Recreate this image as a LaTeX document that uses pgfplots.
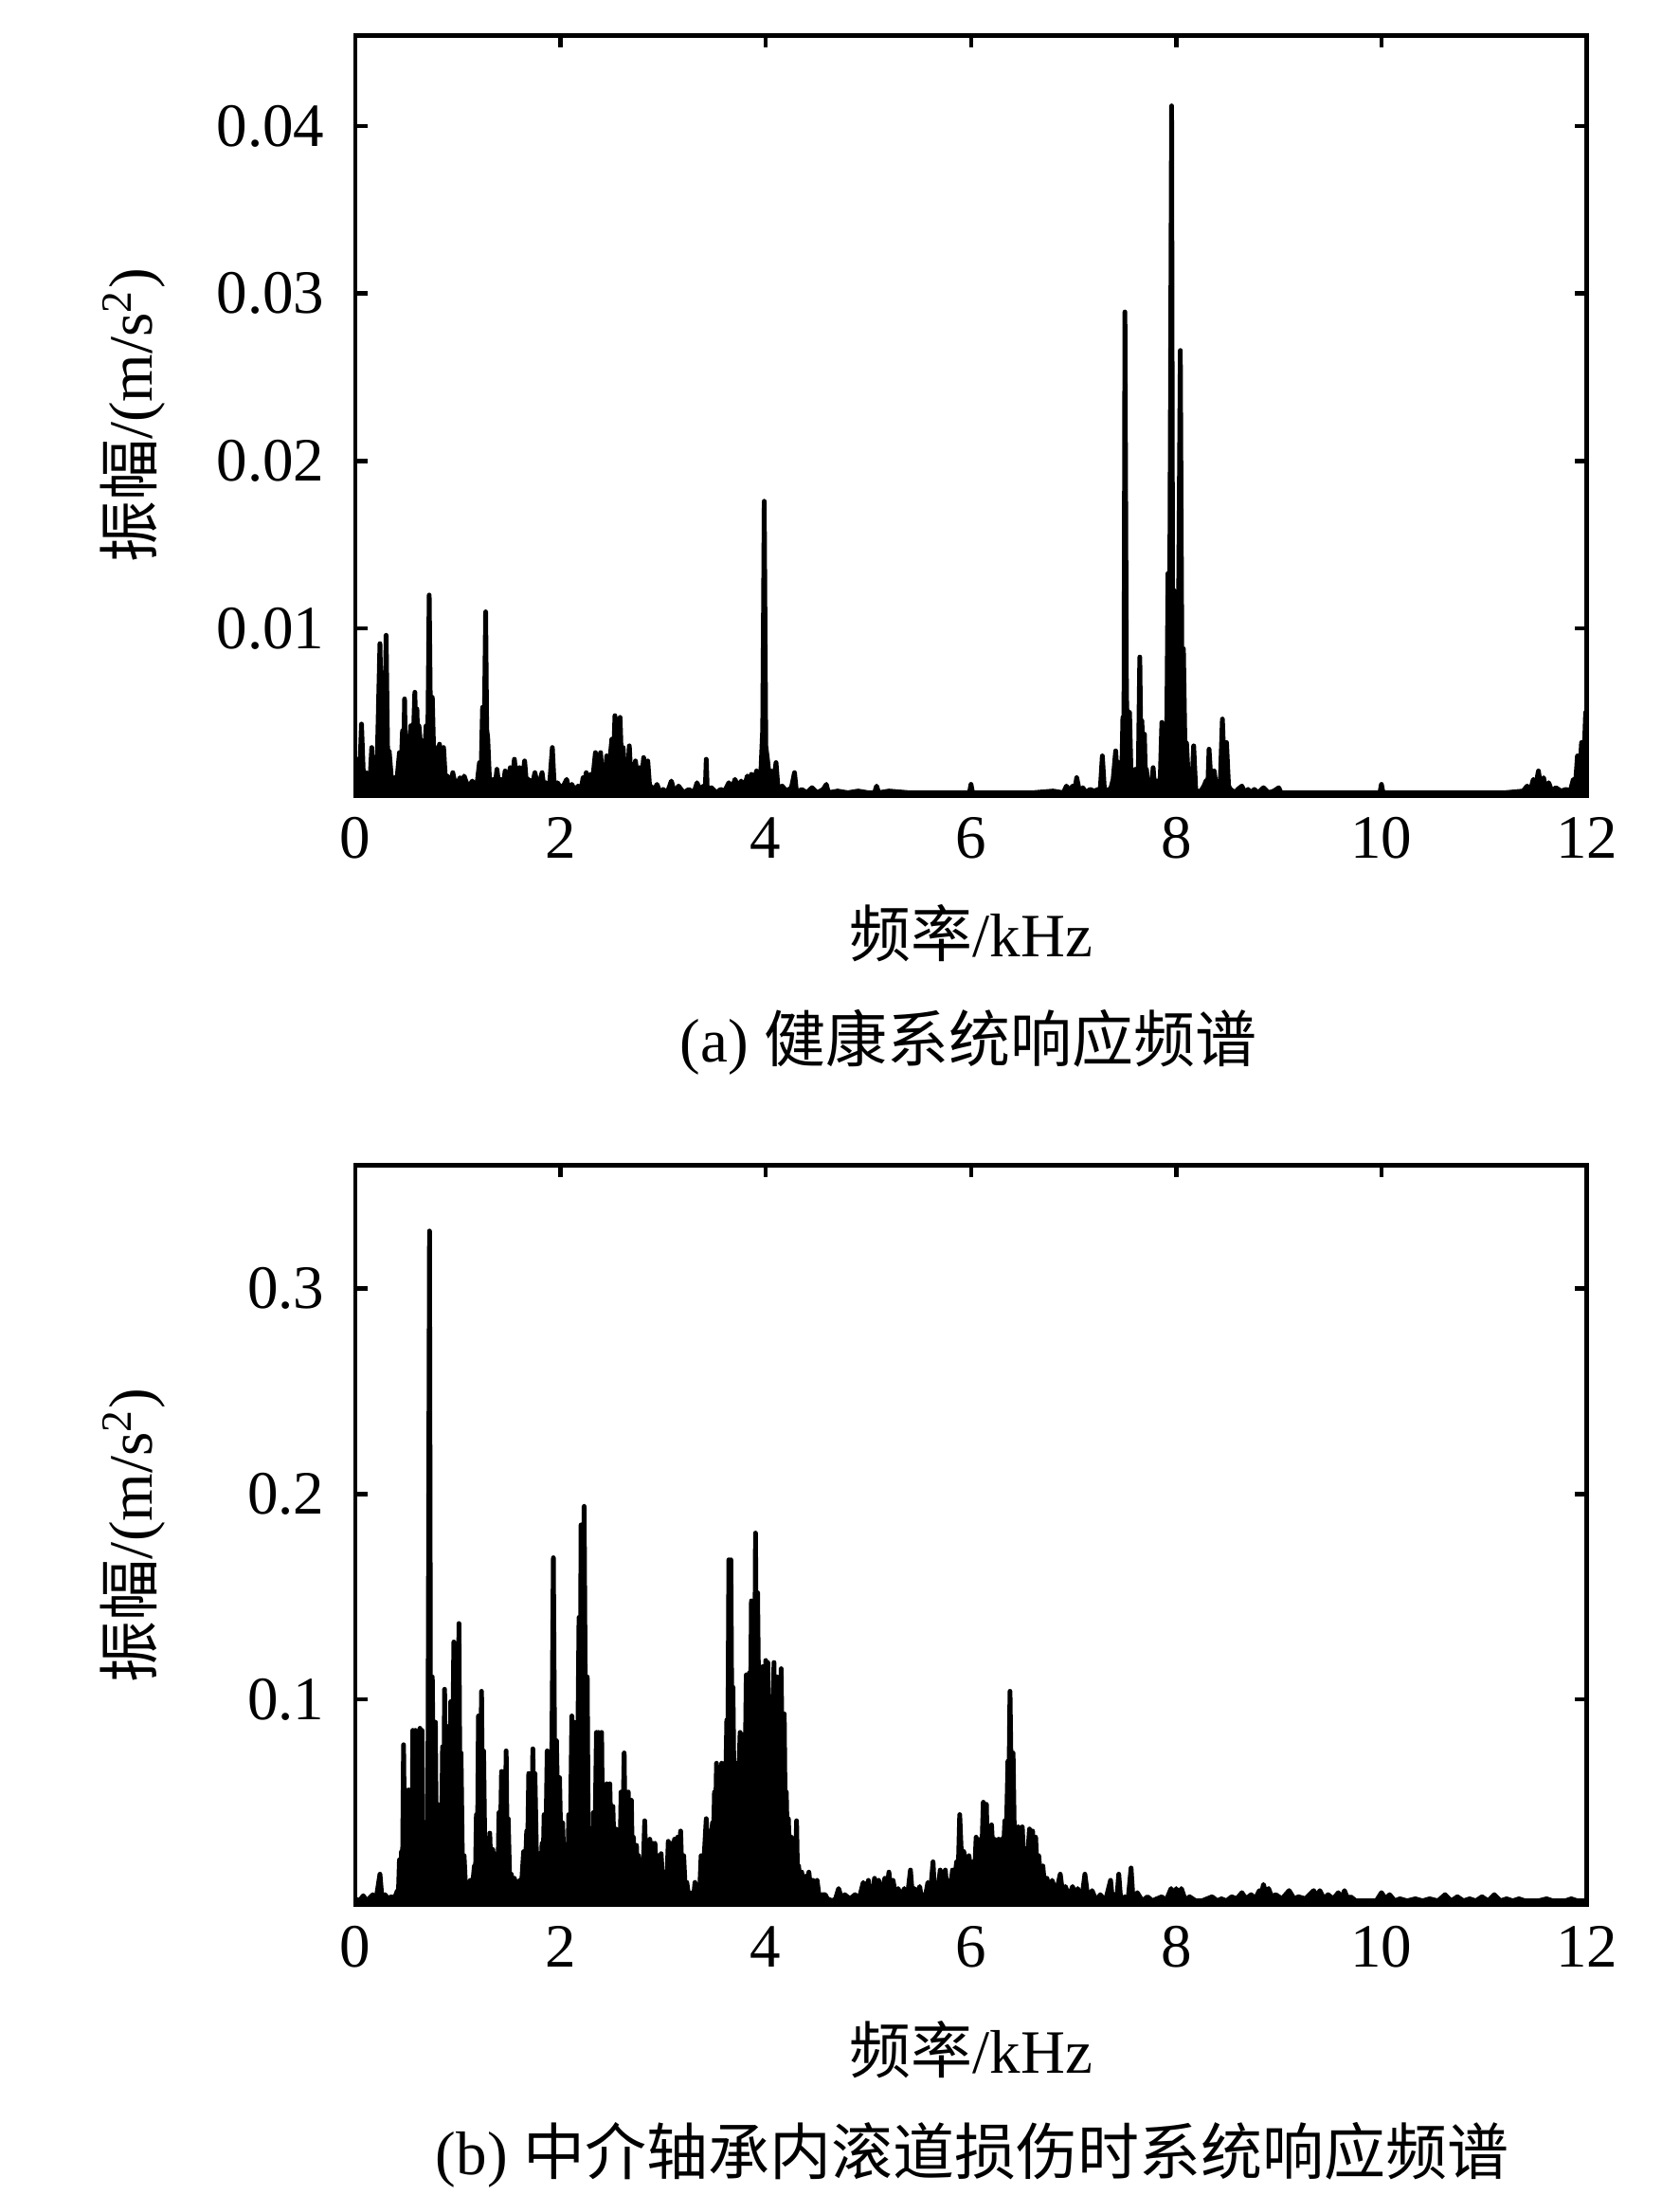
\documentclass[border=0pt]{standalone}
\usepackage{pgfplots}
\pgfplotsset{compat=1.18}
\usepackage{pgfplotstable}
\usepackage{fontspec}
\setmainfont{Liberation Serif}
\newfontfamily\cjk{Noto Sans CJK SC}

\pgfplotstableread[row sep=\\]{
x y\\
0.00 0.0004\\ 0.02 0.0022\\ 0.04 0.0008\\ 0.06 0.0043\\ 0.08 0.0010\\ 0.11 0.0014\\ 0.14 0.0006\\ 0.16 0.0029\\ 0.18 0.0008\\ 0.21 0.0012\\
0.24 0.0091\\ 0.255 0.0040\\ 0.27 0.0065\\ 0.285 0.0035\\ 0.30 0.0096\\ 0.315 0.0025\\ 0.33 0.0027\\ 0.355 0.0008\\ 0.38 0.0011\\ 0.40 0.0006\\
0.43 0.0026\\ 0.445 0.0015\\ 0.46 0.0039\\ 0.47 0.0020\\ 0.48 0.0058\\ 0.49 0.0018\\ 0.50 0.0024\\ 0.52 0.0020\\ 0.54 0.0042\\ 0.56 0.0025\\
0.58 0.0062\\ 0.59 0.0035\\ 0.60 0.0052\\ 0.61 0.0030\\ 0.62 0.0042\\ 0.64 0.0028\\ 0.66 0.0033\\ 0.675 0.0025\\ 0.69 0.0042\\ 0.705 0.0025\\
0.72 0.0120\\ 0.735 0.0030\\ 0.75 0.0059\\ 0.765 0.0022\\ 0.78 0.0029\\ 0.80 0.0020\\ 0.82 0.0031\\ 0.84 0.0018\\ 0.86 0.0029\\ 0.88 0.0008\\
0.90 0.0012\\ 0.93 0.0006\\ 0.95 0.0014\\ 0.98 0.0005\\ 1.02 0.0011\\ 1.04 0.0005\\ 1.06 0.0012\\ 1.10 0.0005\\ 1.14 0.0009\\ 1.18 0.0004\\
1.21 0.0020\\ 1.225 0.0012\\ 1.24 0.0053\\ 1.255 0.0030\\ 1.27 0.0110\\ 1.28 0.0040\\ 1.29 0.0035\\ 1.31 0.0006\\ 1.34 0.0010\\ 1.36 0.0005\\
1.38 0.0016\\ 1.40 0.0006\\ 1.42 0.0010\\ 1.44 0.0005\\ 1.46 0.0015\\ 1.48 0.0006\\ 1.51 0.0017\\ 1.53 0.0007\\ 1.55 0.0022\\ 1.575 0.0007\\
1.60 0.0017\\ 1.62 0.0006\\ 1.65 0.0021\\ 1.67 0.0006\\ 1.69 0.0010\\ 1.72 0.0005\\ 1.75 0.0014\\ 1.78 0.0005\\ 1.82 0.0014\\ 1.84 0.0004\\
1.86 0.0008\\ 1.89 0.0004\\ 1.92 0.0029\\ 1.94 0.0004\\ 1.97 0.0008\\ 2.01 0.0004\\ 2.06 0.0010\\ 2.08 0.0004\\ 2.11 0.0007\\ 2.14 0.0003\\
2.17 0.0006\\ 2.20 0.0004\\ 2.22 0.0011\\ 2.235 0.0006\\ 2.25 0.0014\\ 2.27 0.0008\\ 2.29 0.0013\\ 2.31 0.0008\\ 2.34 0.0026\\ 2.36 0.0012\\
2.39 0.0026\\ 2.405 0.0012\\ 2.42 0.0018\\ 2.435 0.0012\\ 2.45 0.0024\\ 2.47 0.0014\\ 2.50 0.0034\\ 2.515 0.0018\\ 2.53 0.0048\\ 2.54 0.0020\\
2.55 0.0029\\ 2.565 0.0020\\ 2.58 0.0047\\ 2.595 0.0018\\ 2.61 0.0029\\ 2.625 0.0014\\ 2.64 0.0014\\ 2.655 0.0012\\ 2.67 0.0030\\ 2.685 0.0012\\
2.70 0.0019\\ 2.715 0.0010\\ 2.73 0.0021\\ 2.75 0.0010\\ 2.77 0.0017\\ 2.79 0.0010\\ 2.81 0.0023\\ 2.83 0.0010\\ 2.85 0.0021\\ 2.87 0.0004\\
2.88 0.0006\\ 2.91 0.0003\\ 2.94 0.0007\\ 2.97 0.0002\\ 3.00 0.0004\\ 3.04 0.0002\\ 3.08 0.0009\\ 3.11 0.0002\\ 3.15 0.0006\\ 3.20 0.0002\\
3.25 0.0004\\ 3.30 0.0002\\ 3.33 0.0008\\ 3.36 0.0003\\ 3.39 0.0006\\ 3.41 0.0003\\ 3.42 0.0022\\ 3.43 0.0003\\ 3.47 0.0005\\ 3.52 0.0002\\
3.56 0.0004\\ 3.60 0.0003\\ 3.64 0.0008\\ 3.67 0.0004\\ 3.70 0.0010\\ 3.73 0.0005\\ 3.76 0.0009\\ 3.79 0.0005\\ 3.82 0.0012\\ 3.84 0.0006\\
3.86 0.0013\\ 3.88 0.0007\\ 3.91 0.0015\\ 3.93 0.0008\\ 3.95 0.0011\\ 3.97 0.0040\\ 3.985 0.0176\\ 4.00 0.0030\\ 4.02 0.0020\\ 4.04 0.0008\\
4.05 0.0015\\ 4.07 0.0006\\ 4.10 0.0020\\ 4.12 0.0004\\ 4.16 0.0006\\ 4.20 0.0003\\ 4.25 0.0005\\ 4.28 0.0014\\ 4.30 0.0002\\ 4.35 0.0004\\
4.40 0.0002\\ 4.45 0.0005\\ 4.50 0.0002\\ 4.56 0.0004\\ 4.59 0.0007\\ 4.61 0.0002\\ 4.70 0.0003\\ 4.80 0.0002\\ 4.90 0.0003\\ 5.00 0.0002\\
5.06 0.0002\\ 5.08 0.0006\\ 5.10 0.0002\\ 5.20 0.0003\\ 5.40 0.0002\\ 5.60 0.0002\\ 5.80 0.0002\\ 5.985 0.0002\\ 6.00 0.0007\\ 6.015 0.0002\\
6.20 0.0002\\ 6.40 0.0002\\
6.60 0.0002\\ 6.80 0.0003\\ 6.90 0.0002\\ 6.93 0.0006\\ 6.96 0.0003\\ 6.99 0.0006\\ 7.01 0.0003\\ 7.03 0.0011\\ 7.06 0.0002\\ 7.09 0.0005\\
7.12 0.0002\\ 7.16 0.0004\\ 7.20 0.0003\\ 7.24 0.0004\\ 7.26 0.0004\\ 7.28 0.0024\\ 7.30 0.0004\\ 7.32 0.0003\\ 7.34 0.0004\\ 7.36 0.0004\\
7.385 0.0010\\ 7.41 0.0027\\ 7.425 0.0012\\ 7.44 0.0020\\ 7.45 0.0012\\ 7.46 0.0020\\ 7.47 0.0015\\ 7.48 0.0047\\ 7.49 0.0030\\ 7.50 0.0289\\
7.515 0.0060\\ 7.53 0.0030\\ 7.545 0.0050\\ 7.56 0.0012\\ 7.575 0.0011\\ 7.59 0.0008\\ 7.60 0.0016\\ 7.61 0.0008\\ 7.62 0.0016\\ 7.63 0.0012\\
7.645 0.0083\\ 7.655 0.0030\\ 7.665 0.0045\\ 7.68 0.0020\\ 7.69 0.0037\\ 7.70 0.0010\\ 7.71 0.0016\\ 7.725 0.0006\\ 7.74 0.0009\\ 7.76 0.0006\\
7.775 0.0017\\ 7.79 0.0005\\ 7.81 0.0009\\ 7.83 0.0005\\ 7.845 0.0012\\ 7.86 0.0044\\ 7.875 0.0012\\ 7.89 0.0019\\ 7.905 0.0015\\ 7.92 0.0133\\
7.935 0.0090\\ 7.955 0.0412\\ 7.965 0.0100\\ 7.975 0.0123\\ 7.99 0.0090\\ 8.005 0.0120\\ 8.02 0.0090\\ 8.04 0.0266\\ 8.055 0.0080\\ 8.07 0.0088\\
8.085 0.0030\\ 8.10 0.0032\\ 8.12 0.0008\\ 8.14 0.0013\\ 8.155 0.0010\\ 8.17 0.0030\\ 8.19 0.0004\\ 8.22 0.0002\\ 8.25 0.0004\\ 8.27 0.0006\\
8.29 0.0009\\ 8.31 0.0010\\ 8.32 0.0028\\ 8.34 0.0008\\ 8.37 0.0015\\ 8.39 0.0005\\ 8.41 0.0007\\ 8.43 0.0010\\ 8.45 0.0046\\ 8.47 0.0012\\
8.49 0.0032\\ 8.51 0.0006\\ 8.53 0.0004\\ 8.575 0.0002\\ 8.60 0.0004\\ 8.64 0.0006\\ 8.67 0.0002\\ 8.70 0.0004\\ 8.73 0.0002\\ 8.76 0.0004\\
8.80 0.0002\\ 8.85 0.0005\\ 8.90 0.0002\\ 8.95 0.0003\\ 9.00 0.0005\\ 9.02 0.0002\\ 9.20 0.0002\\ 9.50 0.0002\\ 9.80 0.0002\\ 9.985 0.0002\\
10.00 0.0007\\ 10.015 0.0002\\ 10.40 0.0002\\ 10.80 0.0002\\ 11.20 0.0002\\ 11.38 0.0003\\ 11.42 0.0006\\ 11.45 0.0003\\ 11.48 0.0010\\ 11.50 0.0005\\
11.53 0.0015\\ 11.55 0.0006\\ 11.58 0.0011\\ 11.60 0.0004\\ 11.63 0.0008\\ 11.66 0.0003\\ 11.70 0.0005\\ 11.75 0.0003\\ 11.80 0.0004\\ 11.84 0.0003\\
11.87 0.0010\\ 11.89 0.0006\\ 11.91 0.0024\\ 11.93 0.0010\\ 11.95 0.0032\\ 11.97 0.0015\\ 11.99 0.0050\\ 12.00 0.0050\\
}\healthy

\pgfplotstableread[row sep=\\]{
x y\\
0.00 0.003\\ 0.04 0.002\\ 0.077 0.0045\\ 0.11 0.002\\ 0.17 0.005\\ 0.20 0.002\\ 0.24 0.015\\ 0.26 0.003\\ 0.29 0.005\\ 0.32 0.003\\
0.35 0.004\\ 0.38 0.003\\ 0.41 0.007\\ 0.42 0.006\\ 0.43 0.022\\ 0.44 0.012\\ 0.45 0.026\\ 0.46 0.018\\ 0.47 0.078\\ 0.48 0.030\\
0.49 0.056\\ 0.505 0.030\\ 0.52 0.056\\ 0.53 0.012\\ 0.545 0.017\\ 0.553 0.015\\ 0.56 0.085\\ 0.572 0.040\\ 0.585 0.085\\ 0.593 0.030\\
0.60 0.048\\ 0.615 0.020\\ 0.63 0.086\\ 0.64 0.050\\ 0.65 0.085\\ 0.66 0.030\\ 0.67 0.037\\ 0.68 0.010\\ 0.69 0.022\\ 0.705 0.015\\
0.723 0.328\\ 0.735 0.030\\ 0.75 0.111\\ 0.765 0.040\\ 0.78 0.089\\ 0.79 0.030\\ 0.80 0.049\\ 0.81 0.015\\ 0.82 0.022\\ 0.825 0.015\\
0.83 0.045\\ 0.84 0.030\\ 0.85 0.077\\ 0.86 0.040\\ 0.87 0.105\\ 0.88 0.035\\ 0.89 0.067\\ 0.90 0.040\\ 0.91 0.087\\ 0.92 0.050\\
0.93 0.099\\ 0.945 0.060\\ 0.96 0.128\\ 0.972 0.070\\ 0.985 0.122\\ 0.997 0.060\\ 1.01 0.137\\ 1.02 0.050\\ 1.03 0.074\\ 1.045 0.015\\
1.06 0.024\\ 1.075 0.008\\ 1.09 0.011\\ 1.105 0.007\\ 1.12 0.012\\ 1.14 0.008\\ 1.16 0.019\\ 1.17 0.012\\ 1.18 0.044\\ 1.19 0.025\\
1.20 0.092\\ 1.215 0.040\\ 1.23 0.104\\ 1.24 0.040\\ 1.25 0.075\\ 1.265 0.015\\ 1.28 0.030\\ 1.295 0.015\\ 1.31 0.035\\ 1.325 0.012\\
1.34 0.027\\ 1.36 0.012\\ 1.38 0.025\\ 1.39 0.015\\ 1.40 0.045\\ 1.412 0.025\\ 1.425 0.065\\ 1.437 0.035\\ 1.45 0.065\\ 1.46 0.035\\
1.47 0.075\\ 1.48 0.025\\ 1.49 0.042\\ 1.505 0.010\\ 1.52 0.015\\ 1.535 0.008\\ 1.55 0.013\\ 1.575 0.008\\ 1.60 0.012\\ 1.62 0.010\\
1.64 0.026\\ 1.655 0.015\\ 1.67 0.036\\ 1.68 0.030\\ 1.69 0.064\\ 1.70 0.035\\ 1.71 0.064\\ 1.72 0.040\\ 1.73 0.076\\ 1.74 0.040\\
1.75 0.064\\ 1.77 0.012\\ 1.79 0.025\\ 1.805 0.012\\ 1.82 0.030\\ 1.83 0.020\\ 1.84 0.044\\ 1.855 0.025\\ 1.87 0.075\\ 1.88 0.040\\
1.89 0.068\\ 1.91 0.040\\ 1.93 0.169\\ 1.945 0.050\\ 1.96 0.080\\ 1.975 0.040\\ 1.99 0.062\\ 2.005 0.025\\ 2.02 0.040\\ 2.04 0.010\\
2.06 0.019\\ 2.07 0.015\\ 2.08 0.044\\ 2.095 0.030\\ 2.11 0.092\\ 2.12 0.050\\ 2.13 0.089\\ 2.14 0.045\\ 2.15 0.070\\ 2.165 0.060\\
2.18 0.140\\ 2.19 0.080\\ 2.20 0.185\\ 2.215 0.100\\ 2.23 0.194\\ 2.245 0.070\\ 2.26 0.111\\ 2.27 0.030\\ 2.28 0.037\\ 2.29 0.012\\
2.30 0.024\\ 2.31 0.015\\ 2.32 0.045\\ 2.335 0.030\\ 2.35 0.084\\ 2.36 0.040\\ 2.37 0.084\\ 2.385 0.045\\ 2.40 0.084\\ 2.41 0.030\\
2.42 0.058\\ 2.435 0.030\\ 2.45 0.059\\ 2.465 0.030\\ 2.48 0.059\\ 2.495 0.025\\ 2.51 0.048\\ 2.525 0.020\\ 2.54 0.037\\ 2.555 0.015\\
2.57 0.033\\ 2.58 0.025\\ 2.59 0.055\\ 2.605 0.030\\ 2.62 0.074\\ 2.63 0.030\\ 2.64 0.053\\ 2.65 0.025\\ 2.66 0.055\\ 2.675 0.025\\
2.69 0.051\\ 2.70 0.020\\ 2.71 0.033\\ 2.725 0.015\\ 2.74 0.029\\ 2.75 0.015\\ 2.76 0.024\\ 2.775 0.012\\ 2.79 0.020\\ 2.805 0.015\\
2.82 0.041\\ 2.835 0.012\\ 2.85 0.024\\ 2.86 0.015\\ 2.87 0.032\\ 2.885 0.015\\ 2.90 0.030\\ 2.91 0.015\\ 2.92 0.030\\ 2.935 0.012\\
2.95 0.024\\ 2.965 0.012\\ 2.98 0.025\\ 3.00 0.008\\ 3.02 0.016\\ 3.035 0.010\\ 3.05 0.031\\ 3.065 0.012\\ 3.08 0.030\\ 3.095 0.012\\
3.11 0.032\\ 3.125 0.015\\ 3.14 0.033\\ 3.155 0.018\\ 3.17 0.036\\ 3.185 0.012\\ 3.20 0.024\\ 3.215 0.008\\ 3.23 0.011\\ 3.25 0.004\\
3.28 0.006\\ 3.295 0.003\\ 3.31 0.011\\ 3.325 0.004\\ 3.34 0.008\\ 3.355 0.006\\ 3.37 0.024\\ 3.39 0.015\\ 3.42 0.042\\ 3.435 0.025\\
3.45 0.036\\ 3.465 0.025\\ 3.48 0.040\\ 3.49 0.030\\ 3.50 0.055\\ 3.51 0.040\\ 3.52 0.069\\ 3.535 0.045\\ 3.55 0.055\\ 3.56 0.045\\
3.57 0.069\\ 3.585 0.050\\ 3.60 0.069\\ 3.61 0.060\\ 3.62 0.090\\ 3.63 0.070\\ 3.64 0.168\\ 3.65 0.080\\ 3.66 0.168\\ 3.67 0.080\\
3.68 0.106\\ 3.69 0.060\\ 3.70 0.067\\ 3.71 0.055\\ 3.72 0.069\\ 3.735 0.060\\ 3.75 0.084\\ 3.76 0.060\\ 3.77 0.083\\ 3.78 0.065\\
3.79 0.078\\ 3.80 0.070\\ 3.81 0.112\\ 3.825 0.075\\ 3.84 0.113\\ 3.85 0.080\\ 3.86 0.148\\ 3.87 0.090\\ 3.88 0.148\\ 3.89 0.090\\
3.90 0.181\\ 3.91 0.100\\ 3.92 0.152\\ 3.935 0.080\\ 3.95 0.113\\ 3.96 0.080\\ 3.97 0.116\\ 3.985 0.080\\ 4.00 0.119\\ 4.01 0.080\\
4.02 0.118\\ 4.035 0.070\\ 4.05 0.096\\ 4.065 0.075\\ 4.08 0.118\\ 4.085 0.080\\ 4.09 0.111\\ 4.10 0.075\\ 4.11 0.111\\ 4.12 0.070\\
4.13 0.106\\ 4.14 0.070\\ 4.15 0.115\\ 4.165 0.050\\ 4.18 0.093\\ 4.19 0.040\\ 4.20 0.055\\ 4.21 0.030\\ 4.22 0.042\\ 4.235 0.020\\
4.25 0.033\\ 4.265 0.015\\ 4.28 0.024\\ 4.29 0.015\\ 4.30 0.041\\ 4.31 0.012\\ 4.32 0.019\\ 4.335 0.010\\ 4.35 0.016\\ 4.37 0.008\\
4.39 0.014\\ 4.405 0.008\\ 4.42 0.016\\ 4.44 0.006\\ 4.46 0.012\\ 4.48 0.006\\ 4.50 0.012\\ 4.52 0.004\\ 4.55 0.005\\ 4.58 0.005\\
4.60 0.003\\ 4.65 0.002\\ 4.68 0.003\\ 4.71 0.008\\ 4.74 0.003\\ 4.77 0.005\\ 4.82 0.003\\ 4.87 0.005\\ 4.91 0.003\\ 4.95 0.011\\
4.975 0.005\\ 5.00 0.012\\ 5.01 0.005\\ 5.02 0.008\\ 5.04 0.005\\ 5.06 0.013\\ 5.08 0.006\\ 5.10 0.012\\ 5.13 0.005\\ 5.16 0.013\\
5.18 0.007\\ 5.20 0.016\\ 5.22 0.006\\ 5.24 0.012\\ 5.265 0.005\\ 5.29 0.008\\ 5.32 0.004\\ 5.35 0.008\\ 5.38 0.004\\ 5.41 0.017\\
5.43 0.004\\ 5.45 0.008\\ 5.475 0.005\\ 5.50 0.009\\ 5.515 0.004\\ 5.53 0.005\\ 5.555 0.004\\ 5.58 0.011\\ 5.605 0.006\\ 5.63 0.021\\
5.645 0.006\\ 5.66 0.011\\ 5.68 0.008\\ 5.70 0.017\\ 5.725 0.010\\ 5.75 0.017\\ 5.765 0.008\\ 5.78 0.012\\ 5.80 0.008\\ 5.82 0.017\\
5.84 0.012\\ 5.86 0.021\\ 5.875 0.015\\ 5.89 0.044\\ 5.91 0.020\\ 5.93 0.026\\ 5.955 0.015\\ 5.98 0.024\\ 6.00 0.015\\ 6.02 0.021\\
6.035 0.015\\ 6.05 0.033\\ 6.07 0.020\\ 6.09 0.032\\ 6.105 0.025\\ 6.12 0.050\\ 6.135 0.030\\ 6.15 0.049\\ 6.16 0.025\\ 6.17 0.032\\
6.185 0.025\\ 6.20 0.039\\ 6.215 0.025\\ 6.23 0.032\\ 6.25 0.025\\ 6.27 0.032\\ 6.285 0.025\\ 6.30 0.032\\ 6.315 0.025\\ 6.33 0.041\\
6.345 0.035\\ 6.36 0.070\\ 6.37 0.060\\ 6.38 0.104\\ 6.395 0.050\\ 6.41 0.074\\ 6.425 0.025\\ 6.44 0.034\\ 6.45 0.028\\ 6.46 0.038\\
6.48 0.028\\ 6.50 0.038\\ 6.515 0.020\\ 6.53 0.024\\ 6.55 0.022\\ 6.57 0.037\\ 6.585 0.025\\ 6.60 0.036\\ 6.615 0.020\\ 6.63 0.033\\
6.645 0.015\\ 6.66 0.024\\ 6.68 0.012\\ 6.70 0.019\\ 6.72 0.008\\ 6.74 0.013\\ 6.765 0.006\\ 6.79 0.012\\ 6.83 0.006\\ 6.87 0.015\\
6.895 0.005\\ 6.92 0.009\\ 6.955 0.004\\ 6.99 0.009\\ 7.015 0.004\\ 7.04 0.008\\ 7.08 0.003\\ 7.11 0.015\\ 7.14 0.003\\ 7.18 0.007\\
7.22 0.002\\ 7.26 0.005\\ 7.31 0.002\\ 7.36 0.012\\ 7.38 0.002\\ 7.40 0.005\\ 7.42 0.002\\ 7.44 0.015\\ 7.46 0.002\\ 7.50 0.004\\
7.53 0.002\\ 7.56 0.018\\ 7.58 0.002\\ 7.62 0.006\\ 7.67 0.002\\ 7.72 0.004\\ 7.77 0.002\\ 7.81 0.003\\ 7.86 0.004\\ 7.90 0.002\\
7.95 0.008\\ 7.975 0.003\\ 8.00 0.008\\ 8.025 0.003\\ 8.05 0.008\\ 8.09 0.002\\ 8.13 0.004\\ 8.19 0.002\\ 8.25 0.002\\ 8.30 0.003\\
8.35 0.004\\ 8.40 0.002\\ 8.44 0.003\\ 8.49 0.002\\ 8.54 0.004\\ 8.59 0.003\\ 8.64 0.006\\ 8.68 0.003\\ 8.73 0.005\\ 8.77 0.003\\
8.81 0.007\\ 8.83 0.005\\ 8.85 0.010\\ 8.87 0.006\\ 8.90 0.008\\ 8.93 0.004\\ 8.97 0.005\\ 9.03 0.003\\ 9.10 0.007\\ 9.15 0.003\\
9.19 0.004\\ 9.26 0.003\\ 9.34 0.007\\ 9.37 0.004\\ 9.40 0.007\\ 9.44 0.003\\ 9.48 0.005\\ 9.53 0.003\\ 9.58 0.006\\ 9.61 0.003\\
9.64 0.007\\ 9.67 0.003\\ 9.70 0.004\\ 9.75 0.002\\ 9.80 0.002\\ 9.89 0.002\\ 9.95 0.002\\ 10.00 0.006\\ 10.04 0.003\\ 10.08 0.005\\
10.13 0.002\\ 10.18 0.003\\ 10.25 0.002\\ 10.33 0.003\\ 10.40 0.002\\ 10.47 0.003\\ 10.55 0.002\\ 10.62 0.005\\ 10.68 0.002\\ 10.74 0.004\\
10.80 0.002\\ 10.86 0.003\\ 10.92 0.002\\ 10.98 0.004\\ 11.04 0.002\\ 11.10 0.005\\ 11.16 0.002\\ 11.22 0.003\\ 11.28 0.002\\ 11.34 0.003\\
11.40 0.002\\ 11.46 0.002\\ 11.53 0.002\\ 11.61 0.003\\ 11.67 0.002\\ 11.73 0.002\\ 11.79 0.002\\ 11.85 0.003\\ 11.91 0.002\\ 11.97 0.002\\
12.00 0.002\\
}\damaged

\pgfplotsset{
  spec/.style={
    scale only axis, anchor=south west,
    width=259.9pt,
    xmin=0, xmax=12, ymin=0,
    xtick={0,2,4,6,8,10,12},
    tick align=inside,
    major tick length=2.6pt,
    axis line style={line width=0.9pt},
    every tick/.style={black, line width=0.9pt},
    /pgf/number format/assume math mode=true,
    ticklabel style={font=\fontsize{13}{15.6}\selectfont},
    yticklabel style={xshift=-2pt},
    scaled y ticks=false,
  },
  specline/.style={draw=black, fill=black, line width=1.0pt, line join=round, mark=none, sharp plot},
}

\begin{document}
\fontsize{13}{15.6}\selectfont
\begin{tikzpicture}
\path[use as bounding box] (0,0) rectangle (354.4pt,463.2pt);
\begin{axis}[spec, at={(75pt,295.2pt)}, height=160.5pt, ymax=0.0454,
  ytick={0.01,0.02,0.03,0.04}, yticklabels={0.01,0.02,0.03,0.04}]
\addplot[specline] table[x=x,y=y] {\healthy} \closedcycle;
\end{axis}
\begin{axis}[spec, at={(75pt,61.2pt)}, height=156.1pt, ymax=0.36,
  ytick={0.1,0.2,0.3}, yticklabels={0.1,0.2,0.3}]
\addplot[specline] table[x=x,y=y] {\damaged} \closedcycle;
\end{axis}
\node[rotate=90] at (28pt,375.5pt) {{\cjk 振幅}/(m/s\textsuperscript{2})};
\node at (204.95pt,266.2pt) {{\cjk 频率}/kHz};
\node at (204.4pt,243.2pt) {(a) {\cjk 健康系统响应频谱}};
\node[rotate=90] at (28pt,139.25pt) {{\cjk 振幅}/(m/s\textsuperscript{2})};
\node at (204.95pt,30.6pt) {{\cjk 频率}/kHz};
\node at (205.2pt,8.4pt) {(b) {\cjk 中介轴承内滚道损伤时系统响应频谱}};
\end{tikzpicture}
\end{document}
